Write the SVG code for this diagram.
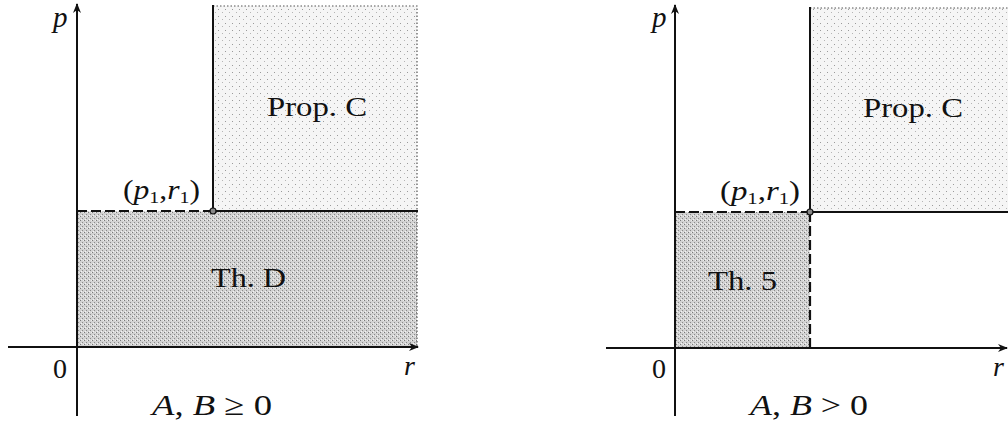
<svg xmlns="http://www.w3.org/2000/svg" width="1008" height="424" viewBox="0 0 1008 424">
<style>
.t{font-family:"Liberation Serif","DejaVu Serif",serif;fill:#111;}
.m{font-style:italic;}
.ax{stroke:#111;stroke-width:2;fill:none;}
.ln{stroke:#111;stroke-width:2;fill:none;}
.ds{stroke:#111;stroke-width:2.2;fill:none;stroke-dasharray:10 4;}
.dt{stroke:#555;stroke-width:1.2;fill:none;stroke-dasharray:1.5 2;}
.light{fill:url(#lightDots);}
.dark{fill:url(#darkDots);}
</style>
<defs>
<pattern id="lightDots" width="7" height="7" patternUnits="userSpaceOnUse">
<rect width="7" height="7" fill="#f5f5f5"/>
<rect x="1" y="2" width="1" height="1" fill="#9a9a9a"/>
<rect x="5" y="5" width="1" height="1" fill="#b5b5b5"/>
</pattern>
<pattern id="darkDots" width="4" height="4" patternUnits="userSpaceOnUse">
<rect width="4" height="4" fill="#d2d2d2"/>
<rect x="0" y="0" width="1" height="1" fill="#7a7a7a"/>
<rect x="2" y="2" width="1" height="1" fill="#8a8a8a"/>
<rect x="3" y="0" width="1" height="1" fill="#eeeeee"/>
<rect x="1" y="3" width="1" height="1" fill="#f4f4f4"/>
</pattern>
<marker id="arr" viewBox="0 0 10 10" refX="9" refY="5" markerWidth="5" markerHeight="5" orient="auto" markerUnits="strokeWidth">
<path d="M0,1 L10,5 L0,9 L3,5 Z" fill="#111"/>
</marker>
</defs>

<g id="left-panel">
<g id="left-regions">
<rect id="left-propC" class="light" x="213" y="6" width="204" height="205"/>
<rect id="left-thD" class="dark" x="77" y="211" width="340" height="136"/>
<path class="dt" d="M213,6 H417 V347"/>
</g>
<g id="left-connectors">
<line class="ax" x1="8" y1="347" x2="418" y2="347" marker-end="url(#arr)"/>
<line class="ax" x1="77" y1="416" x2="77" y2="4" marker-end="url(#arr)"/>
<line class="ln" x1="213" y1="5" x2="213" y2="211"/>
<line class="ln" x1="213" y1="211" x2="418" y2="211"/>
<line class="ds" x1="77" y1="211" x2="213" y2="211"/>
</g>
<g id="left-point"><circle cx="213" cy="211" r="3" fill="#888" stroke="#111" stroke-width="1.2"/></g>
<g id="left-labels">
<text class="t m" x="53" y="27" font-size="29">p</text>
<text class="t" x="123" y="199" font-size="27" textLength="77" lengthAdjust="spacingAndGlyphs">(<tspan class="m">p</tspan><tspan font-size="17" dy="4">1</tspan><tspan dy="-4">,</tspan><tspan class="m">r</tspan><tspan font-size="17" dy="4">1</tspan><tspan dy="-4">)</tspan></text>
<text class="t" x="267" y="116" font-size="28" textLength="100" lengthAdjust="spacingAndGlyphs">Prop. C</text>
<text class="t" x="211" y="287" font-size="28" textLength="75" lengthAdjust="spacingAndGlyphs">Th. D</text>
<text class="t" x="53" y="378" font-size="28">0</text>
<text class="t m" x="404" y="375" font-size="28">r</text>
<text class="t" x="152" y="415" font-size="30" textLength="120" lengthAdjust="spacingAndGlyphs"><tspan class="m">A</tspan>, <tspan class="m">B</tspan> ≥ 0</text>
</g>
</g>

<g id="right-panel">
<g id="right-regions">
<rect id="right-propC" class="light" x="810" y="8" width="198" height="204"/>
<rect id="right-th5" class="dark" x="675" y="212" width="135" height="136"/>
<path class="dt" d="M810,8 H1008"/>
</g>
<g id="right-connectors">
<line class="ax" x1="606" y1="348" x2="1007" y2="348" marker-end="url(#arr)"/>
<line class="ax" x1="675" y1="416" x2="675" y2="5" marker-end="url(#arr)"/>
<line class="ln" x1="810" y1="7" x2="810" y2="212"/>
<line class="ln" x1="810" y1="212" x2="1008" y2="212"/>
<line class="ds" x1="675" y1="212" x2="810" y2="212"/>
<line class="ds" x1="810" y1="212" x2="810" y2="348"/>
</g>
<g id="right-point"><circle cx="810" cy="212" r="3" fill="#888" stroke="#111" stroke-width="1.2"/></g>
<g id="right-labels">
<text class="t m" x="652" y="27" font-size="29">p</text>
<text class="t" x="720" y="200" font-size="27" textLength="80" lengthAdjust="spacingAndGlyphs">(<tspan class="m">p</tspan><tspan font-size="17" dy="4">1</tspan><tspan dy="-4">,</tspan><tspan class="m">r</tspan><tspan font-size="17" dy="4">1</tspan><tspan dy="-4">)</tspan></text>
<text class="t" x="863" y="117" font-size="28" textLength="100" lengthAdjust="spacingAndGlyphs">Prop. C</text>
<text class="t" x="708" y="290" font-size="28" textLength="69" lengthAdjust="spacingAndGlyphs">Th. 5</text>
<text class="t" x="652" y="378" font-size="28">0</text>
<text class="t m" x="993" y="376" font-size="28">r</text>
<text class="t" x="750" y="415" font-size="30" textLength="118" lengthAdjust="spacingAndGlyphs"><tspan class="m">A</tspan>, <tspan class="m">B</tspan> &gt; 0</text>
</g>
</g>
</svg>
